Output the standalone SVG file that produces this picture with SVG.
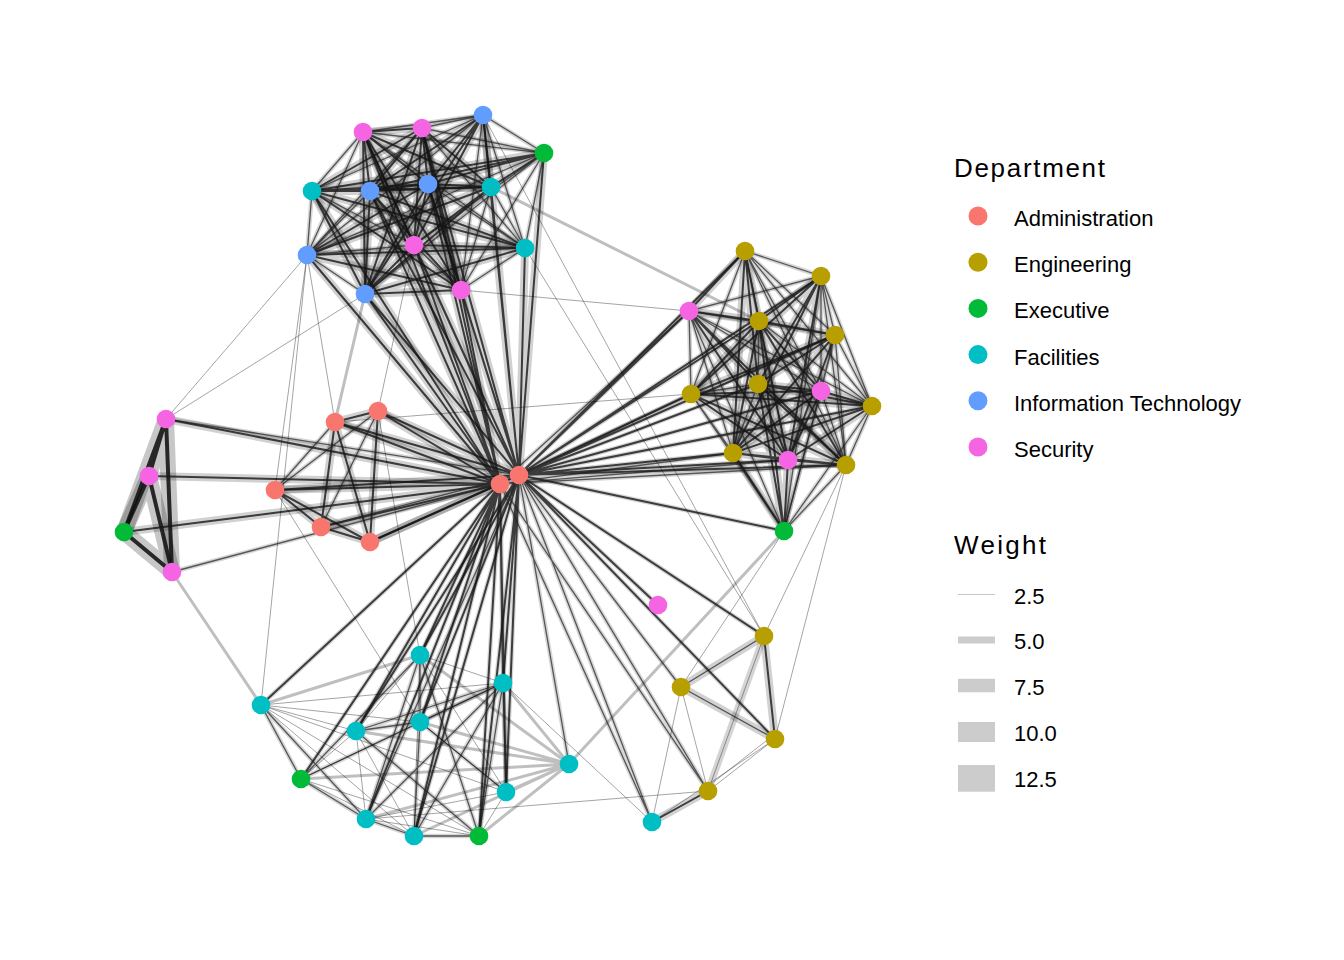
<svg xmlns="http://www.w3.org/2000/svg" xmlns:xlink="http://www.w3.org/1999/xlink" width="1344" height="960" viewBox="0 0 1344 960">
<style>
.hx{fill:none;stroke:#000;stroke-opacity:.22;stroke-width:16}
.hh{fill:none;stroke:#000;stroke-opacity:.18;stroke-width:8}
.hm{fill:none;stroke:#000;stroke-opacity:.16;stroke-width:4.5}
.cx{fill:none;stroke:#111;stroke-opacity:.88;stroke-width:4}
.ch{fill:none;stroke:#151515;stroke-opacity:.8;stroke-width:2}
.cm{fill:none;stroke:#222;stroke-opacity:.72;stroke-width:1.3}
.lt{fill:none;stroke:#000;stroke-opacity:.45;stroke-width:.8}
.lg{fill:none;stroke:#000;stroke-opacity:.25;stroke-width:3}
.lw{fill:none;stroke:#000;stroke-opacity:.17;stroke-width:7}
.adm{fill:#F8766D}.eng{fill:#B79F00}.exe{fill:#00BA38}.fac{fill:#00BFC4}.it{fill:#619CFF}.sec{fill:#F564E3}
.ttl{font-family:"Liberation Sans",Arial,sans-serif;font-size:26px;fill:#000}
.lbl{font-family:"Liberation Sans",Arial,sans-serif;font-size:22px;fill:#000}
.key{fill:#CCCCCC}
</style>
<defs>
<path id="TH1" d="M363 132L370 191M363 132L428 184M363 132L414 245M363 132L461 290M363 132L491 187M363 132L365 294M363 132L422 128"/>
<path id="TH2" d="M422 128L428 184M422 128L414 245M422 128L461 290M422 128L370 191M422 128L491 187M422 128L312 191M422 128L365 294"/>
<path id="TH3" d="M483 115L370 191M483 115L414 245M483 115L428 184M483 115L365 294M483 115L491 187"/>
<path id="TH4" d="M544 153L428 184M544 153L370 191M544 153L312 191M544 153L491 187"/>
<path id="TH5" d="M312 191L428 184M312 191L370 191M312 191L491 187M312 191L461 290M312 191L525 248M312 191L365 294"/>
<path id="TH6" d="M370 191L428 184M370 191L461 290M370 191L525 248M370 191L491 187M370 191L365 294"/>
<path id="TH7" d="M428 184L491 187M428 184L461 290M428 184L365 294M428 184L307 255M428 184L414 245"/>
<path id="TH8" d="M491 187L307 255M491 187L365 294M491 187L414 245M414 245L525 248M414 245L365 294"/>
<path id="TH9" d="M525 248L307 255M525 248L365 294M307 255L461 290M365 294L461 290"/>
<path id="TM1" d="M363 132L483 115M363 132L544 153M363 132L312 191M363 132L525 248M363 132L307 255"/>
<path id="TM2" d="M422 128L483 115M422 128L544 153M422 128L525 248M422 128L307 255"/>
<path id="TM3" d="M483 115L544 153M483 115L312 191M483 115L525 248M483 115L307 255M483 115L461 290"/>
<path id="TM4" d="M544 153L414 245M544 153L525 248M544 153L307 255M544 153L365 294M544 153L461 290"/>
<path id="TM5" d="M312 191L414 245M312 191L307 255M370 191L414 245M370 191L307 255M428 184L525 248"/>
<path id="TM6" d="M491 187L525 248M491 187L461 290M414 245L307 255M414 245L461 290M525 248L461 290M307 255L365 294"/>
<path id="HUB1" d="M500 484L363 132M500 484L422 128M500 484L312 191M500 484L370 191M500 484L428 184M500 484L414 245M500 484L307 255M500 484L365 294M500 484L461 290"/>
<path id="HUB2" d="M500 484L335 422M500 484L378 411M500 484L275 490M500 484L321 527M500 484L370 542M500 484L166 419M500 484L149 476M500 484L124 532"/>
<path id="HUB3" d="M500 484L420 655M500 484L503 683M500 484L261 705M500 484L356 731M500 484L420 722M500 484L301 779M500 484L366 819M500 484L414 836M500 484L506 792M500 484L479 836"/>
<path id="HUB4" d="M519 475L363 132M519 475L422 128M519 475L483 115M519 475L544 153M519 475L370 191M519 475L428 184M519 475L491 187M519 475L414 245M519 475L525 248M519 475L365 294M519 475L461 290"/>
<path id="HUB5" d="M519 475L335 422M519 475L378 411M519 475L275 490M519 475L370 542"/>
<path id="HUB6" d="M519 475L745 251M519 475L821 276M519 475L689 311M519 475L759 321M519 475L835 335M519 475L758 384M519 475L821 391M519 475L691 394M519 475L872 406M519 475L733 453M519 475L788 460M519 475L846 465M519 475L784 531"/>
<path id="HUB7" d="M519 475L420 655M519 475L503 683M519 475L356 731M519 475L420 722M519 475L506 792M519 475L414 836M519 475L479 836M519 475L764 636M519 475L775 739M519 475L658 605"/>
<path id="HUBM" d="M500 484L172 572M500 484L689 311M500 484L691 394M500 484L733 453M500 484L846 465M500 484L708 791M500 484L652 822M519 475L166 419M519 475L321 527M519 475L569 764M519 475L366 819M519 475L681 687M519 475L708 791M519 475L652 822M500 484L788 460"/>
<path id="RH1" d="M745 251L689 311M745 251L759 321M745 251L758 384M745 251L733 453"/>
<path id="RH2" d="M821 276L691 394M821 276L758 384M821 276L733 453M821 276L759 321M821 276L788 460"/>
<path id="RH3" d="M689 311L759 321M689 311L788 460M689 311L758 384M689 311L846 465"/>
<path id="RH4" d="M759 321L835 335M759 321L788 460M759 321L846 465M759 321L733 453M759 321L691 394M759 321L821 391"/>
<path id="RH5" d="M835 335L691 394M835 335L733 453M835 335L758 384M835 335L788 460"/>
<path id="RH6" d="M758 384L821 391M758 384L872 406M758 384L788 460M758 384L846 465"/>
<path id="RH7" d="M821 391L691 394M821 391L733 453M821 391L872 406M821 391L788 460"/>
<path id="RH8" d="M691 394L872 406M691 394L846 465M691 394L788 460M872 406L733 453M872 406L788 460"/>
<path id="RH9" d="M733 453L846 465M733 453L788 460M788 460L846 465M788 460L784 531M784 531L758 384M784 531L733 453M784 531L759 321"/>
<path id="RM1" d="M745 251L821 276M745 251L835 335M745 251L821 391M745 251L691 394M745 251L872 406M745 251L788 460M745 251L846 465"/>
<path id="RM2" d="M821 276L689 311M821 276L835 335M821 276L821 391M821 276L872 406M821 276L846 465M821 276L784 531"/>
<path id="RM3" d="M689 311L835 335M689 311L821 391M689 311L691 394M689 311L872 406M689 311L733 453M689 311L784 531"/>
<path id="RM4" d="M759 321L758 384M759 321L872 406M835 335L821 391M835 335L872 406M835 335L846 465M835 335L784 531"/>
<path id="RM5" d="M758 384L691 394M758 384L733 453M821 391L846 465M821 391L784 531M691 394L733 453M691 394L784 531"/>
<path id="RM6" d="M872 406L846 465M872 406L784 531M733 453L784 531M846 465L784 531"/>
<path id="LAH" d="M335 422L378 411M335 422L321 527M335 422L370 542M378 411L370 542M275 490L321 527M275 490L370 542M321 527L370 542"/>
<path id="LAM" d="M335 422L275 490M378 411L275 490M378 411L321 527"/>
<path id="XL1" d="M166 419L149 476M166 419L124 532M166 419L172 572"/>
<path id="XL2" d="M149 476L124 532M149 476L172 572M124 532L172 572"/>
<path id="BM1" d="M261 705L301 779M261 705L366 819M301 779L420 655M301 779L503 683M301 779L366 819"/>
<path id="BM2" d="M366 819L420 655M366 819L503 683M366 819L414 836M414 836L420 722M414 836L479 836M414 836L503 683"/>
<path id="BM3" d="M479 836L420 655M479 836L356 731M479 836L503 683M506 792L503 683M506 792L420 722"/>
<path id="BM4" d="M356 731L503 683M356 731L420 722M420 722L503 683M420 655L420 722"/>
<path id="BRH" d="M764 636L775 739M708 791L652 822"/>
<path id="BRM" d="M764 636L681 687M681 687L775 739"/>
<path id="BRW" d="M764 636L708 791"/>
</defs>
<g id="connectors">
<path class="lg" d="M503 683L569 764M301 779L569 764M356 731L569 764M420 722L569 764M366 819L569 764M414 836L569 764M479 836L569 764M420 655L569 764M506 792L569 764M261 705L420 655"/>
<path class="lg" d="M491 187L759 321M365 294L335 422M569 764L784 531M172 572L261 705"/>
<use href="#BRW" class="lw"/>
<use href="#XL1" class="hx"/><use href="#XL2" class="hx"/>
<use href="#TH1" class="hh"/><use href="#TH2" class="hh"/><use href="#TH3" class="hh"/><use href="#TH4" class="hh"/><use href="#TH5" class="hh"/><use href="#TH6" class="hh"/><use href="#TH7" class="hh"/><use href="#TH8" class="hh"/><use href="#TH9" class="hh"/>
<use href="#TM1" class="hm"/><use href="#TM2" class="hm"/><use href="#TM3" class="hm"/><use href="#TM4" class="hm"/><use href="#TM5" class="hm"/><use href="#TM6" class="hm"/>
<use href="#HUB1" class="hh"/><use href="#HUB2" class="hh"/><use href="#HUB3" class="hm"/><use href="#HUB4" class="hh"/><use href="#HUB5" class="hh"/><use href="#HUB6" class="hm"/><use href="#HUB7" class="hm"/><use href="#HUBM" class="hm"/>
<use href="#RH1" class="hh"/><use href="#RH2" class="hh"/><use href="#RH3" class="hh"/><use href="#RH4" class="hh"/><use href="#RH5" class="hh"/><use href="#RH6" class="hh"/><use href="#RH7" class="hh"/><use href="#RH8" class="hh"/><use href="#RH9" class="hh"/>
<use href="#RM1" class="hm"/><use href="#RM2" class="hm"/><use href="#RM3" class="hm"/><use href="#RM4" class="hm"/><use href="#RM5" class="hm"/><use href="#RM6" class="hm"/>
<use href="#LAH" class="hh"/><use href="#LAM" class="hm"/>
<use href="#BM1" class="hm"/><use href="#BM2" class="hm"/><use href="#BM3" class="hm"/><use href="#BM4" class="hm"/>
<use href="#BRH" class="hh"/><use href="#BRM" class="hh"/>
<use href="#XL1" class="cx"/><use href="#XL2" class="cx"/>
<use href="#TH1" class="ch"/><use href="#TH2" class="ch"/><use href="#TH3" class="ch"/><use href="#TH4" class="ch"/><use href="#TH5" class="ch"/><use href="#TH6" class="ch"/><use href="#TH7" class="ch"/><use href="#TH8" class="ch"/><use href="#TH9" class="ch"/>
<use href="#TM1" class="cm"/><use href="#TM2" class="cm"/><use href="#TM3" class="cm"/><use href="#TM4" class="cm"/><use href="#TM5" class="cm"/><use href="#TM6" class="cm"/>
<use href="#HUB1" class="ch"/><use href="#HUB2" class="ch"/><use href="#HUB3" class="ch"/><use href="#HUB4" class="ch"/><use href="#HUB5" class="ch"/><use href="#HUB6" class="ch"/><use href="#HUB7" class="ch"/><use href="#HUBM" class="cm"/>
<use href="#RH1" class="ch"/><use href="#RH2" class="ch"/><use href="#RH3" class="ch"/><use href="#RH4" class="ch"/><use href="#RH5" class="ch"/><use href="#RH6" class="ch"/><use href="#RH7" class="ch"/><use href="#RH8" class="ch"/><use href="#RH9" class="ch"/>
<use href="#RM1" class="cm"/><use href="#RM2" class="cm"/><use href="#RM3" class="cm"/><use href="#RM4" class="cm"/><use href="#RM5" class="cm"/><use href="#RM6" class="cm"/>
<use href="#LAH" class="ch"/><use href="#LAM" class="cm"/>
<use href="#BM1" class="cm"/><use href="#BM2" class="cm"/><use href="#BM3" class="cm"/><use href="#BM4" class="cm"/>
<use href="#BRH" class="ch"/><use href="#BRM" class="cm"/><use href="#BRW" class="lt"/>
<path class="lt" d="M261 705L420 722M261 705L356 731M261 705L506 792M261 705L414 836M301 779L356 731M301 779L420 722M301 779L414 836M301 779L479 836M366 819L479 836M366 819L506 792M356 731L414 836M356 731L366 819M420 655L356 731M420 655L503 683M420 655L506 792M420 655L414 836M420 722L506 792M506 792L479 836M261 705L479 836M261 705L503 683"/>
<path class="lt" d="M775 739L708 791M681 687L708 791M681 687L652 822M775 739L652 822M771 737L706 788"/>
<path class="lt" d="M461 290L689 311M525 248L764 636M335 422L691 394M307 255L275 490M378 411L420 655M275 490L420 722M307 255L261 705M366 819L708 791M503 683L652 822M846 465L764 636M846 465L775 739M307 255L166 419M365 294L166 419M784 531L681 687M483 115L764 636M335 422L307 255M378 411L414 245"/>
</g>
<g id="nodes">
<g id="t1"><circle class="sec" cx="363" cy="132" r="9.3"/></g>
<g id="t2"><circle class="sec" cx="422" cy="128" r="9.3"/></g>
<g id="t3"><circle class="it" cx="483" cy="115" r="9.3"/></g>
<g id="t4"><circle class="exe" cx="544" cy="153" r="9.3"/></g>
<g id="t5"><circle class="fac" cx="312" cy="191" r="9.3"/></g>
<g id="t6"><circle class="it" cx="370" cy="191" r="9.3"/></g>
<g id="t7"><circle class="it" cx="428" cy="184" r="9.3"/></g>
<g id="t8"><circle class="fac" cx="491" cy="187" r="9.3"/></g>
<g id="t9"><circle class="sec" cx="414" cy="245" r="9.3"/></g>
<g id="t10"><circle class="fac" cx="525" cy="248" r="9.3"/></g>
<g id="t11"><circle class="it" cx="307" cy="255" r="9.3"/></g>
<g id="t12"><circle class="it" cx="365" cy="294" r="9.3"/></g>
<g id="t13"><circle class="sec" cx="461" cy="290" r="9.3"/></g>
<g id="h1"><circle class="adm" cx="500" cy="484" r="9.3"/></g>
<g id="h2"><circle class="adm" cx="519" cy="475" r="9.3"/></g>
<g id="a1"><circle class="adm" cx="335" cy="422" r="9.3"/></g>
<g id="a2"><circle class="adm" cx="378" cy="411" r="9.3"/></g>
<g id="a3"><circle class="adm" cx="275" cy="490" r="9.3"/></g>
<g id="a4"><circle class="adm" cx="321" cy="527" r="9.3"/></g>
<g id="a5"><circle class="adm" cx="370" cy="542" r="9.3"/></g>
<g id="l1"><circle class="sec" cx="166" cy="419" r="9.3"/></g>
<g id="l2"><circle class="sec" cx="149" cy="476" r="9.3"/></g>
<g id="l3"><circle class="exe" cx="124" cy="532" r="9.3"/></g>
<g id="l4"><circle class="sec" cx="172" cy="572" r="9.3"/></g>
<g id="r1"><circle class="eng" cx="745" cy="251" r="9.3"/></g>
<g id="r2"><circle class="eng" cx="821" cy="276" r="9.3"/></g>
<g id="r3"><circle class="sec" cx="689" cy="311" r="9.3"/></g>
<g id="r4"><circle class="eng" cx="759" cy="321" r="9.3"/></g>
<g id="r5"><circle class="eng" cx="835" cy="335" r="9.3"/></g>
<g id="r6"><circle class="eng" cx="758" cy="384" r="9.3"/></g>
<g id="r7"><circle class="sec" cx="821" cy="391" r="9.3"/></g>
<g id="r8"><circle class="eng" cx="691" cy="394" r="9.3"/></g>
<g id="r9"><circle class="eng" cx="872" cy="406" r="9.3"/></g>
<g id="r10"><circle class="eng" cx="733" cy="453" r="9.3"/></g>
<g id="r11"><circle class="sec" cx="788" cy="460" r="9.3"/></g>
<g id="r12"><circle class="eng" cx="846" cy="465" r="9.3"/></g>
<g id="r13"><circle class="exe" cx="784" cy="531" r="9.3"/></g>
<g id="m1"><circle class="sec" cx="658" cy="605" r="9.3"/></g>
<g id="b1"><circle class="eng" cx="764" cy="636" r="9.3"/></g>
<g id="b2"><circle class="eng" cx="681" cy="687" r="9.3"/></g>
<g id="b3"><circle class="eng" cx="775" cy="739" r="9.3"/></g>
<g id="b4"><circle class="eng" cx="708" cy="791" r="9.3"/></g>
<g id="b5"><circle class="fac" cx="652" cy="822" r="9.3"/></g>
<g id="f1"><circle class="fac" cx="420" cy="655" r="9.3"/></g>
<g id="f2"><circle class="fac" cx="503" cy="683" r="9.3"/></g>
<g id="f3"><circle class="fac" cx="261" cy="705" r="9.3"/></g>
<g id="f4"><circle class="fac" cx="356" cy="731" r="9.3"/></g>
<g id="f5"><circle class="fac" cx="420" cy="722" r="9.3"/></g>
<g id="f6"><circle class="fac" cx="569" cy="764" r="9.3"/></g>
<g id="f7"><circle class="exe" cx="301" cy="779" r="9.3"/></g>
<g id="f8"><circle class="fac" cx="506" cy="792" r="9.3"/></g>
<g id="f9"><circle class="fac" cx="366" cy="819" r="9.3"/></g>
<g id="f10"><circle class="fac" cx="414" cy="836" r="9.3"/></g>
<g id="f11"><circle class="exe" cx="479" cy="836" r="9.3"/></g>
</g>
<g id="legend-department">
<text class="ttl" x="954" y="177" textLength="151" lengthAdjust="spacing">Department</text>
<circle class="adm" cx="978" cy="216" r="9.5"/><text class="lbl" x="1014" y="226">Administration</text>
<circle class="eng" cx="978" cy="262.2" r="9.5"/><text class="lbl" x="1014" y="272.2">Engineering</text>
<circle class="exe" cx="978" cy="308.4" r="9.5"/><text class="lbl" x="1014" y="318.4">Executive</text>
<circle class="fac" cx="978" cy="354.6" r="9.5"/><text class="lbl" x="1014" y="364.6">Facilities</text>
<circle class="it" cx="978" cy="400.8" r="9.5"/><text class="lbl" x="1014" y="410.8">Information Technology</text>
<circle class="sec" cx="978" cy="447" r="9.5"/><text class="lbl" x="1014" y="457">Security</text>
</g>
<g id="legend-weight">
<text class="ttl" x="954" y="554" textLength="92" lengthAdjust="spacing">Weight</text>
<rect x="958" y="594" width="37" height="1" fill="#C8C8C8"/><text class="lbl" x="1014" y="603.5">2.5</text>
<rect class="key" x="958" y="636.5" width="37" height="7"/><text class="lbl" x="1014" y="649.3">5.0</text>
<rect class="key" x="958" y="678.8" width="37" height="13.5"/><text class="lbl" x="1014" y="695.1">7.5</text>
<rect class="key" x="958" y="722" width="37" height="20"/><text class="lbl" x="1014" y="740.9">10.0</text>
<rect class="key" x="958" y="765" width="37" height="26.7"/><text class="lbl" x="1014" y="786.7">12.5</text>
</g>
</svg>
